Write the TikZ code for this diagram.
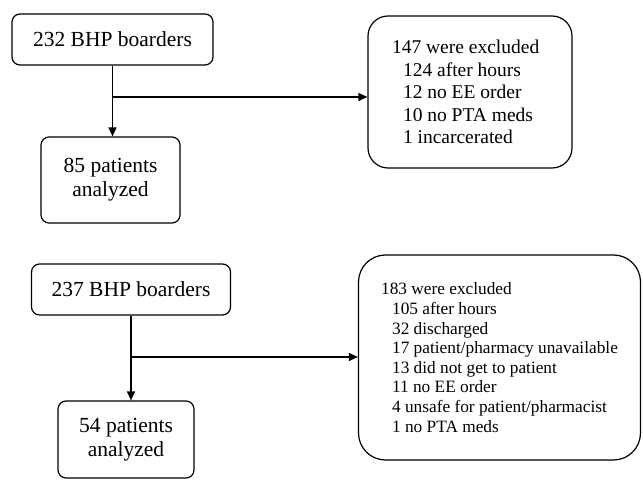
\documentclass[tikz,border=0pt]{standalone}
\usepackage{fontspec}
\setmainfont{Liberation Serif}
\usetikzlibrary{
	arrows.meta,						% Arrow tips
	calc								% Coordinate calculations
}

\begin{document}
\begin{tikzpicture}[x=1pt, y=-1pt]
		\tikzstyle{box} = [draw, line width=1.2pt, rounded corners=8pt, align=center, font=\fontsize{21.5}{24}\selectfont]
		\tikzstyle{exclbox} = [draw, line width=1.2pt, align=flush left]
		\tikzstyle{arrow} = [line width=1.2pt, -{Triangle[length=9pt, width=8pt]}]
		
		\useasboundingbox (0,0) rectangle (643,481);
		
		% Cohort 1
		%% Boxes
		\node[box, minimum width=201pt, minimum height=51pt] at (112.5, 39.5) (topBoarders) {232 BHP boarders};
		\node[box, minimum width=139pt, minimum height=86pt] at (110.5, 180) (topAnalyzed) {85 patients\\analyzed};
		\node[exclbox, rounded corners=20pt, text width=156pt, inner xsep=24pt, minimum height=152pt, font=\fontsize{19.5}{22.5}\selectfont] at (470, 92) (topExcluded) {147 were excluded\\
			\hspace*{11pt}124 after hours\\
			\hspace*{11pt}12 no EE order\\
			\hspace*{11pt}10 no PTA meds\\
			\hspace*{11pt}1 incarcerated};
		%% Arrows
		\coordinate (topSplit) at (topBoarders.south |- 0, 97);
		\draw[arrow] (topBoarders.south) -- (topBoarders.south |- topAnalyzed.north);
		\draw[arrow] (topSplit) -- (topSplit -| topExcluded.west);
		
		% Cohort 2
		%% Boxes
		\node[box, minimum width=199pt, minimum height=51pt] at (131, 289.5) (bottomBoarders) {237 BHP boarders};
		\node[box, minimum width=136pt, minimum height=77pt] at (126, 439.5) (bottomAnalyzed) {54 patients\\analyzed};
		\node[exclbox, rounded corners=27pt, minimum width=282pt, minimum height=205pt, font=\fontsize{17.3}{19.6}\selectfont] at (499.5, 357.5) (bottomExcluded) {183 were excluded\\
			\hspace*{11pt}105 after hours\\
			\hspace*{11pt}32 discharged\\
			\hspace*{11pt}17 patient/pharmacy unavailable\\
			\hspace*{11pt}13 did not get to patient\\
			\hspace*{11pt}11 no EE order\\
			\hspace*{11pt}4 unsafe for patient/pharmacist\\
			\hspace*{11pt}1 no PTA meds};
		%% Arrows
		\coordinate (bottomSplit) at (bottomBoarders.south |- 0, 357);
		\draw[arrow] (bottomBoarders.south) -- (bottomBoarders.south |- bottomAnalyzed.north);
		\draw[arrow] (bottomSplit) -- (bottomSplit -| bottomExcluded.west);
	\end{tikzpicture}
\end{document}
